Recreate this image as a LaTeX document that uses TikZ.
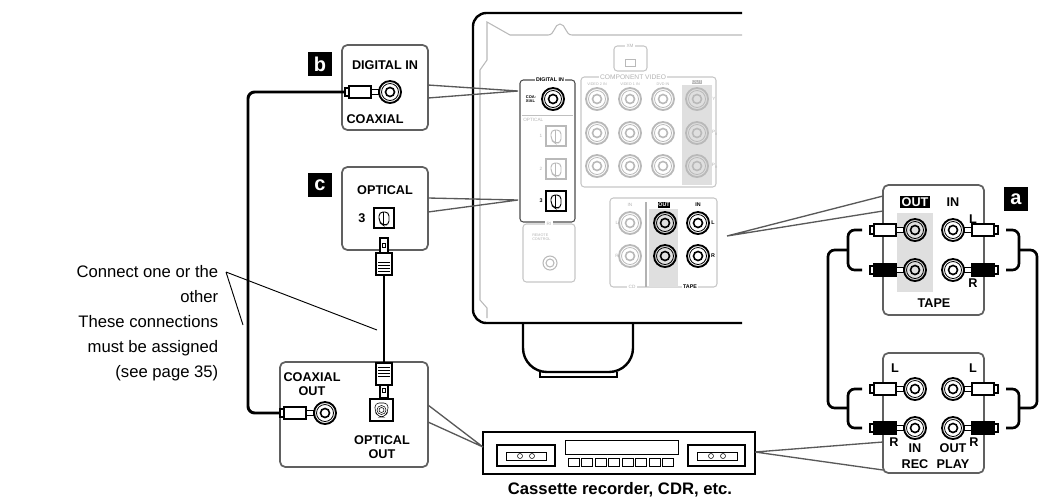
\documentclass[tikz,border=0pt]{standalone}
\usepackage{fontspec}
\setmainfont{Liberation Sans}
\begin{document}
\begin{tikzpicture}[x=0.75pt,y=-0.75pt,
  box/.style={draw=gray!75!black,line width=1.3pt,rounded corners=4,fill=white},
  gbox/.style={draw=gray!45,line width=0.8pt,rounded corners=2.5},
  lab/.style={font=\bfseries\fontsize{9.5}{10}\selectfont,inner sep=0},
  tiny/.style={font=\fontsize{3.5}{4}\selectfont,inner sep=0,text=gray!60},
  tinyb/.style={font=\bfseries\fontsize{4}{4}\selectfont,inner sep=0},
  call/.style={draw=gray!70!black,line width=1pt},
  cable/.style={line width=2pt,rounded corners=5},
  badge/.style={fill=black,text=white,font=\bfseries\fontsize{15}{15}\selectfont,minimum width=18pt,minimum height=18pt,inner sep=0},
  pics/rca/.style={code={
    \draw[line width=1.4pt,#1] (0,0) circle (11);
    \draw[line width=0.6pt,#1] (0,0) circle (8.5);
    \draw[line width=1.2pt,#1] (0,0) circle (4.5);}},
  pics/rca/.default=black,
  pics/opt/.style={code={
    \draw[line width=1pt,#1,fill=white] (-10,-10) rectangle (10,10);
    \draw[line width=0.7pt,#1,rounded corners=3] (5,-6) -- (-5,-6) -- (-5,4) -- (-1,7) -- (5,7) -- cycle;
    \draw[line width=0.7pt,#1] (-1,-6) -- (-1,7);}},
  pics/opt/.default=black,
  pics/plugL/.style={code={
    \draw[line width=0.8pt,fill=white] (-8,-2.5) rectangle (0,2.5);
    \draw[line width=1pt,fill=#1] (-30,-6) rectangle (-8,6);
    \draw[line width=0.8pt,fill=white] (-34,-4) rectangle (-30,4);}},
  pics/plugR/.style={code={
    \draw[line width=0.8pt,fill=white] (8,-2.5) rectangle (0,2.5);
    \draw[line width=1pt,fill=#1] (30,-6) rectangle (8,6);
    \draw[line width=0.8pt,fill=white] (34,-4) rectangle (30,4);}}
]
\useasboundingbox (0,0) rectangle (1045,501);

% ---------- receiver body ----------
\draw[line width=1.8pt,rounded corners=10] (742,13) -- (473,13) -- (473,323) -- (742,323);
\draw[gray!55,line width=0.8pt] (742,35) -- (572,35) .. controls (565,35) and (566,24) .. (560,24) .. controls (554,24) and (555,35) .. (548,35) -- (510,35) -- (487,22) -- (487,60) -- (480,70) -- (480,300) -- (487,308) -- (487,318);
\draw[line width=1.8pt,rounded corners=18] (523,323) -- (523,372) -- (633,372) -- (633,323);
\draw[line width=1pt] (540,372) -- (540,377) -- (617,377) -- (617,372);

% XM
\draw[gbox] (614,46) rectangle (647,71);
\node[tiny,fill=white,inner sep=1] at (630,46) {XM};
\draw[gray!55] (625,59) rectangle (635,66);

% digital in panel
\draw[gbox,draw=gray!60!black] (520,80) rectangle (575,222);
\node[tinyb,fill=white,inner sep=1] (dinl) at (550,80) {DIGITAL IN};
\node[tinyb,align=left,font=\bfseries\fontsize{3}{3.5}\selectfont] at (531,99) {COA-\\XIAL};
\pic at (553,99) {rca};
\coordinate (rxcoax) at (518,91);
\draw[gray!50] (522,115) -- (573,115);
\node[tiny,anchor=west] at (523,120) {OPTICAL};
\node[tiny] at (541,136) {1}; \pic at (556,136) {opt=gray!55};
\node[tiny] at (541,169) {2}; \pic at (556,169) {opt=gray!55};
\node[tinyb] at (541,201) {3}; \pic at (556,201) {opt};
\coordinate (rxopt) at (518,200);

% RI
\draw[gbox] (523,224) rectangle (575,282);
\node[tiny,fill=white,inner sep=1] at (549,224) {RI};
\node[tiny,align=left,anchor=north west,font=\fontsize{2.8}{3}\selectfont] at (532,234) {REMOTE\\CONTROL};
\draw[gray!55,line width=0.8pt] (550,263) circle (7) (550,263) circle (4);

% component video
\draw[gbox] (581,77) rectangle (716,187);
\node[tiny,fill=white,inner sep=1,font=\fontsize{5}{5}\selectfont] at (633,77) {COMPONENT VIDEO};
\fill[gray!25] (682,85) rectangle (712,185);
\foreach \c/\t in {597/VIDEO 2 IN,630/VIDEO 1 IN,663/DVD IN}{\node[tiny,font=\fontsize{2.8}{3}\selectfont] at (\c,84) {\t};}
\node[tiny,fill=gray!55,text=white] at (697,82) {OUT};
\foreach \c in {597,630,663,697}{\foreach \r in {99,133,166}{\pic at (\c,\r) {rca=gray!55};}}
\node[tiny] at (714,99) {Y}; \node[tiny] at (715,133) {P\textsubscript{B}}; \node[tiny] at (715,166) {P\textsubscript{R}};

% CD / TAPE
\draw[gbox] (610,198) rectangle (717,287);
\fill[gray!25] (649,209) rectangle (678,287);
\draw[gray!60,line width=0.8pt] (646,202) -- (646,287);
\node[tiny] at (630,205) {IN};
\node[tinyb,fill=black,text=white,inner sep=0.5] at (664,205) {OUT};
\node[tinyb] at (698,205) {IN};
\node[tiny] at (617,223) {L}; \node[tiny] at (617,256) {R};
\node[tinyb] at (713,223) {L}; \node[tinyb] at (713,256) {R};
\pic at (630,223) {rca=gray!55}; \pic at (630,256) {rca=gray!55};
\pic at (665,223) {rca}; \pic at (665,256) {rca}; \pic at (698,223) {rca}; \pic at (698,256) {rca};
\node[tiny,fill=white,inner sep=1] at (632,287) {CD};
\node[tinyb,fill=white,inner sep=1] at (690,287) {TAPE};
\coordinate (rxtape) at (727,236);

% ---------- a panel ----------
\draw[box] (883,185) rectangle (984,315);
\fill[gray!25] (897,213) rectangle (933,292);
\node[lab,fill=black,text=white,inner sep=1] at (915,202) {OUT};
\node[lab] at (953,202) {IN};
\node[lab] at (934,303) {TAPE};
\node[lab] at (973,219) {L}; \node[lab] at (973,283) {R};
\pic at (915,230) {rca}; \pic at (915,270) {rca}; \pic at (953,230) {rca}; \pic at (953,270) {rca};
\node[badge] (ba) at (1016,199) {a};
\draw[call] (rxtape) -- (883,196) (rxtape) -- (883,211);

\draw[box] (883,353) rectangle (984,473);
\pic at (915,389) {rca}; \pic at (915,428) {rca}; \pic at (953,389) {rca}; \pic at (953,428) {rca};
\node[lab] at (895,368) {L}; \node[lab] at (973,368) {L};
\node[lab] at (894,442) {R}; \node[lab] at (974,442) {R};
\node[lab] at (915,448) {IN}; \node[lab] at (953,448) {OUT};
\node[lab] at (915,464) {REC}; \node[lab] at (953,464) {PLAY};

% a cables
\coordinate (pl1) at (862,230); \coordinate (pl2) at (862,270);
\coordinate (pl3) at (862,389); \coordinate (pl4) at (862,428);
\coordinate (pr1) at (1006,230); \coordinate (pr2) at (1006,270);
\coordinate (pr3) at (1006,389); \coordinate (pr4) at (1006,428);
\draw[cable] (pl1) -- (848,230) -- (848,270) -- (pl2);
\draw[cable] (pl3) -- (848,389) -- (848,428) -- (pl4);
\draw[cable] (848,250) -- (828,250) -- (828,408) -- (848,408);
\draw[cable] (pr1) -- (1019,230) -- (1019,270) -- (pr2);
\draw[cable] (pr3) -- (1019,389) -- (1019,428) -- (pr4);
\draw[cable] (1019,250) -- (1037,250) -- (1037,408) -- (1019,408);
\pic at (904,230) {plugL=white}; \pic at (904,270) {plugL=black};
\pic at (904,389) {plugL=white}; \pic at (904,428) {plugL=black};
\pic at (964,230) {plugR=white}; \pic at (964,270) {plugR=black};
\pic at (964,389) {plugR=white}; \pic at (964,428) {plugR=black};

% ---------- deck ----------
\draw[line width=1.3pt] (483,432) rectangle (755,474);
\draw[line width=1pt] (497,445) rectangle (555,466) (688,445) rectangle (745,466);
\draw (506,452) rectangle (546,460) (697,452) rectangle (737,460);
\draw (520,456) circle (2.5) (532,456) circle (2.5) (711,456) circle (2.5) (723,456) circle (2.5);
\draw (565,440) rectangle (678,454);
\foreach \i in {0,...,7}{\draw (568+\i*13.5,458) rectangle (568+\i*13.5+11,466);}
\node[font=\bfseries\fontsize{12.5}{13}\selectfont] (cap) at (620,490) {Cassette recorder, CDR, etc.};
\coordinate (deckR) at (755,452); \coordinate (deckL) at (483,447);
\draw[call] (deckR) -- (883,442) (deckR) -- (883,470);

% ---------- left boxes ----------
\draw[box] (342,45) rectangle (428,130);
\node[lab] at (385,65) {DIGITAL IN};
\node[lab] at (375,119) {COAXIAL};
\pic at (390,92) {rca};
\node[badge] (bbadge) at (320,64) {b};
\draw[call] (rxcoax) -- (428,85) (rxcoax) -- (428,98);

\draw[box] (342,167) rectangle (428,250);
\node[lab] at (385,190) {OPTICAL};
\node[lab] at (362,218) {3};
\pic at (384,218) {opt};
\node[badge] (cbadge) at (320,185) {c};
\draw[call] (rxopt) -- (428,198) (rxopt) -- (428,212);

\draw[box] (280,362) rectangle (428,467);
\node[lab,align=center] at (312,384) {COAXIAL\\OUT};
\pic at (325,413) {rca};
\draw[line width=1pt,fill=white] (370,399) rectangle (393,421);
\draw[rounded corners=3] (375,403) -- (388,403) -- (388,412) -- (384,417) -- (379,417) -- (375,412) -- cycle;
\draw (381.5,410) circle (4.5) (381.5,410) circle (2.5);
\node[lab,align=center] at (382,447) {OPTICAL\\OUT};
\draw[call] (deckL) -- (428,405) (deckL) -- (428,422);

% coax cable
\coordinate (cb) at (345,92); \coordinate (cd) at (280,413);
\draw[cable,line width=2.2pt] (cb) -- (248,92) -- (248,413) -- (cd);
\pic at (379,92) {plugL=white};
\pic at (314,413) {plugL=white};

% optical cable
\coordinate (o1) at (384,275); \coordinate (o2) at (384,363);
\draw[line width=2.2pt] (o1) -- (o2);
\draw[fill=white,line width=0.8pt] (380,238) rectangle (388,253) (380,385) rectangle (388,398);
\draw (382.5,243) rectangle (385.5,247) (382.5,388) rectangle (385.5,392);
\draw[fill=white,line width=1pt] (376,253) rectangle (392,275) (376,363) rectangle (392,385);
\foreach \y in {262,265,268,271}{\draw (378,\y) -- (390,\y);}
\foreach \y in {367,370,373,376}{\draw (378,\y) -- (390,\y);}

% left text
\node[font=\fontsize{12.5}{18.7}\selectfont,align=right,anchor=north east] (note) at (223,261) {Connect one or the\\other\\These connections\\must be assigned\\(see page 35)};
\coordinate (np) at (226,272);
\draw[line width=0.7pt] (np) -- (377,330) (np) -- (243,325);
\end{tikzpicture}
\end{document}
